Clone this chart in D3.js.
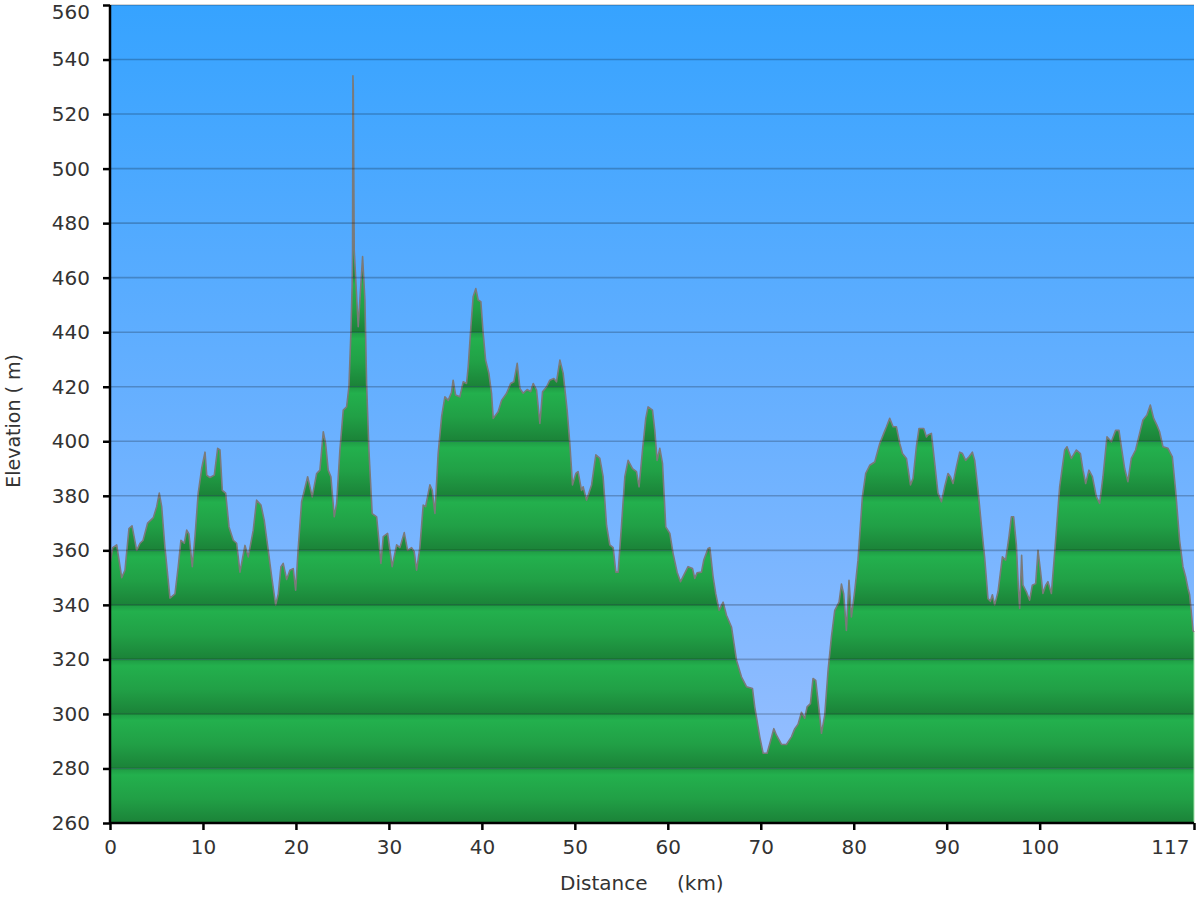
<!DOCTYPE html>
<html><head><meta charset="utf-8">
<script src="https://cdn.jsdelivr.net/npm/d3@7"></script>
<style>body{margin:0;background:#fff}</style>
</head><body><svg id="c" width="1200" height="900"></svg>
<script>
const distanceKm = [0,0.3,0.72,1.26,1.61,2.04,2.37,2.87,3.23,3.55,4.05,4.66,5.02,5.3,5.56,5.91,6.45,6.99,7.34,7.63,7.99,8.25,8.49,8.85,9.14,9.49,9.86,10.22,10.4,10.75,11.22,11.58,11.83,12.08,12.44,12.8,13.26,13.62,13.98,14.52,14.87,15.41,15.77,16.24,16.59,17.02,17.39,17.82,18.1,18.39,18.63,19,19.35,19.71,19.97,20.25,20.61,21.26,21.75,22.23,22.58,22.94,23.19,23.47,23.76,24.12,24.38,24.73,25.09,25.45,25.7,25.91,26.05,26.09,26.13,26.17,26.27,26.7,27.17,27.42,27.6,27.85,28.2,28.68,28.92,29.14,29.39,29.86,30.11,30.35,30.83,31.18,31.65,32.01,32.44,32.72,32.98,33.33,33.69,33.95,34.41,34.66,34.95,35.3,35.67,36.02,36.38,36.74,36.91,37.17,37.63,37.99,38.35,38.53,38.82,39.06,39.35,39.6,39.89,40.14,40.4,40.75,41.04,41.22,41.75,42.12,42.66,43.09,43.44,43.8,44.09,44.44,44.87,45.24,45.52,45.88,46.24,46.53,46.96,47.31,47.74,48.03,48.39,48.74,49.17,49.46,49.75,50.11,50.35,50.72,50.89,51.26,51.8,52.26,52.69,53.04,53.41,53.76,54.12,54.41,54.66,55.02,55.38,55.73,56.2,56.63,56.91,57.28,57.63,57.88,58.35,58.6,58.85,59.14,59.43,59.78,60.22,60.57,61,61.37,61.72,62.18,62.66,62.9,63.15,63.62,63.87,64.33,64.52,64.87,65.16,65.52,65.95,66.31,66.85,67.39,67.92,68.46,69.11,69.35,69.89,70.25,70.68,71.04,71.4,71.69,72.23,72.76,73.3,73.66,74.01,74.38,74.73,74.98,75.34,75.62,75.91,76.27,76.53,76.88,77.24,77.6,77.96,78.42,78.68,78.92,79.21,79.49,79.75,80.11,80.46,80.93,81.29,81.72,82.26,82.8,83.23,83.52,83.87,84.23,84.59,84.95,85.24,85.67,86.1,86.38,86.74,87.02,87.53,87.82,87.99,88.35,88.71,89.06,89.43,89.78,90.14,90.4,90.68,91.04,91.4,91.69,92.04,92.4,92.76,93.01,93.37,93.73,94.09,94.44,94.7,94.91,95.16,95.52,95.99,96.34,96.7,96.96,97.2,97.49,97.71,97.85,98.06,98.2,98.57,98.92,99.21,99.57,99.82,100.08,100.35,100.65,100.89,101.26,101.61,102.15,102.69,102.94,103.41,103.95,104.38,104.66,104.95,105.3,105.67,106.1,106.45,106.81,107.24,107.71,108.17,108.53,108.78,109.14,109.49,109.86,110.32,110.75,111.11,111.54,111.9,112.26,112.61,112.9,113.26,113.8,114.27,114.62,115.05,115.41,115.7,115.95,116.13,116.31,116.49,116.6];
const elevationM = [355,361,362,350,352.7,368,369,360,362.6,363.6,370,372,376,381,376,361,342.5,344,354,363.7,362.6,367.4,366,354,365,381,390,396,387.6,386.7,387.6,397.4,396.8,382,381,368.6,363.7,362.6,352,361.8,357.6,367.4,378.4,376.6,371,360,350.3,340,344,354,355.2,349.3,352.7,353.3,345.4,361,377.8,387,379.6,388.2,389.4,403.5,399.2,389.4,387,372.3,377.2,396.8,411.4,412.6,420,439.6,457.9,470,534,529,470,442,467.7,451.8,421.2,396.8,373.5,372.3,363.7,355.2,365,366.2,360,354,362,361,366.5,360,361,359.5,352.7,361,376.6,376,384,382,373.5,395.5,409,416.3,415,418,422.4,417,416.3,421.8,421.2,427.3,442,453,456,451.8,451.2,439.6,429.8,425,417.6,408.4,410.8,415,417.6,421.2,421.8,428.6,419.4,417.6,419,418.2,421.2,418.8,406.5,418.2,420,422.4,423,421.8,429.8,425,411.4,399.2,384,388.2,388.9,382,383.3,378.4,384,395,393.7,387,369.2,362,361,352,352,369.2,387,393,390,388.9,383.3,396.8,408.4,412.6,411.4,404,393,397.4,391.9,368.6,366.2,358.8,352,348.5,350.9,354,353.3,349.7,351.8,352,356.4,360.7,361,350.3,344,338,341,336.2,331.9,319.7,313.6,310,309.3,302.6,291.6,285.6,285.6,290,294.6,292.2,288.8,288.8,291.6,294.6,296.2,300.6,298.4,302.6,303.8,313,312.3,301.4,292.9,299.6,316,328.3,338,341,347.6,344,330.6,349,335.6,345.2,356.4,379.6,388.2,391.2,392.4,399.2,402.9,405.3,408.4,405.3,405.3,399.2,395.5,393.7,384,386.4,398,404.7,404.7,401.6,402.3,402.9,391.9,381,377.8,383.3,388.2,387,384.5,390.6,396,395.5,393,394.3,396,393,382,369.2,357,342.3,341.3,343.7,340,344.8,357.6,356.4,365,372.3,372.3,362,346.1,338.7,358.2,347.2,344.8,341.7,347.2,347.8,360,352.7,344.2,347.2,348.5,344.2,359,383.3,396.8,398,393.7,396.8,395.5,389.4,384.5,389.4,387,379.6,377.2,387,401.6,399.8,404,404,398,390,385.2,393.7,396.8,402.9,407.8,409.6,413.3,408.4,405.9,403.5,398,397.4,394.3,382,363.7,354,350.3,346.1,343.7,337.3,330.6,330];
const yTickValues = [260,280,300,320,340,360,380,400,420,440,460,480,500,520,540,560];
const xTickValues = [0,10,20,30,40,50,60,70,80,90,100,116.6];
const xTickLabels = ["0","10","20","30","40","50","60","70","80","90","100","117"];

const FONT = "DejaVu Sans, Verdana, sans-serif";
const svg = d3.select("#c");
const L = 110, R = 1194, T = 5, B = 823;
const x = d3.scaleLinear().domain([0, 116.6]).range([L, R]);
const y = d3.scaleLinear().domain([260, 560]).range([B, T]);
const data = distanceKm.map((d, i) => ({d, e: elevationM[i]}));

const defs = svg.append("defs");
const sky = defs.append("linearGradient").attr("id", "sky").attr("x1", 0).attr("y1", 0).attr("x2", 0).attr("y2", 1);
sky.append("stop").attr("offset", "0").attr("stop-color", "#36a3ff");
sky.append("stop").attr("offset", "0.5").attr("stop-color", "#68b0ff");
sky.append("stop").attr("offset", "1").attr("stop-color", "#9cc0ff");
const band = defs.append("linearGradient").attr("id", "band").attr("x1", 0).attr("y1", 0).attr("x2", 0).attr("y2", 1);
band.append("stop").attr("offset", "0").attr("stop-color", "#1f9b44");
band.append("stop").attr("offset", "0.12").attr("stop-color", "#23b04d");
band.append("stop").attr("offset", "0.55").attr("stop-color", "#21a046");
band.append("stop").attr("offset", "1").attr("stop-color", "#1b8238");

const area = d3.area().x(d => x(d.d)).y0(y(260)).y1(d => y(d.e));
const line = d3.line().x(d => x(d.d)).y(d => y(d.e));
defs.append("clipPath").attr("id", "ac").append("path").attr("d", area(data));

svg.append("rect").attr("x", L).attr("y", T).attr("width", R - L).attr("height", B - T).attr("fill", "url(#sky)");

const g = svg.append("g").attr("clip-path", "url(#ac)");
for (let i = 0; i < yTickValues.length - 1; i++) {
  g.append("rect").attr("x", L).attr("width", R - L)
    .attr("y", y(yTickValues[i + 1])).attr("height", y(yTickValues[i]) - y(yTickValues[i + 1]))
    .attr("fill", "url(#band)");
}

svg.append("path").attr("d", line(data)).attr("fill", "none")
  .attr("stroke", "#7a7a7a").attr("stroke-width", 1.6).attr("stroke-linejoin", "round");

// gridlines
svg.append("g").selectAll("line").data(yTickValues.slice(1)).join("line")
  .attr("x1", L).attr("x2", R).attr("y1", d => y(d)).attr("y2", d => y(d))
  .attr("stroke", "#000").attr("stroke-opacity", 0.22).attr("stroke-width", 1.6);

svg.append("line").attr("x1", R).attr("x2", R).attr("y1", y(330)).attr("y2", B)
  .attr("stroke", "#9fe0a8").attr("stroke-width", 1);

// axes
const yAxis = svg.append("g").attr("transform", `translate(${L},0)`)
  .call(d3.axisLeft(y).tickValues(yTickValues).tickSize(7).tickPadding(13).tickFormat(d3.format("d")));
const xAxis = svg.append("g").attr("transform", `translate(0,${B})`)
  .call(d3.axisBottom(x).tickValues(xTickValues).tickSize(7).tickPadding(10).tickFormat((d, i) => xTickLabels[i]));
[yAxis, xAxis].forEach(a => {
  a.select(".domain").attr("stroke", "#000").attr("stroke-width", 2.5);
  a.selectAll(".tick line").attr("stroke", "#000").attr("stroke-width", 2.5);
  a.selectAll("text").attr("fill", "#333").style("font-family", FONT).style("font-size", "20px");
});
xAxis.select(".domain").attr("d", `M${L},0H${R}`);
yAxis.select(".domain").attr("d", `M0,${B}V${T}`);
yAxis.selectAll(".tick").filter(d => d === 560).select("text").attr("dy", "0.75em").attr("y", -2);
xAxis.selectAll(".tick").filter((d, i) => i === xTickValues.length - 1).select("text")
  .attr("text-anchor", "end").attr("x", -5);

svg.append("text").attr("transform", `translate(20,421) rotate(-90)`)
  .attr("text-anchor", "middle").attr("fill", "#333")
  .style("font-family", FONT).style("font-size", "19px")
  .text("Elevation ( m)");
svg.append("text").attr("x", 560).attr("y", 890).attr("fill", "#333")
  .style("font-family", FONT).style("font-size", "20px").text("Distance");
svg.append("text").attr("x", 677).attr("y", 890).attr("fill", "#333")
  .style("font-family", FONT).style("font-size", "20px").text("(km)");
</script></body></html>
